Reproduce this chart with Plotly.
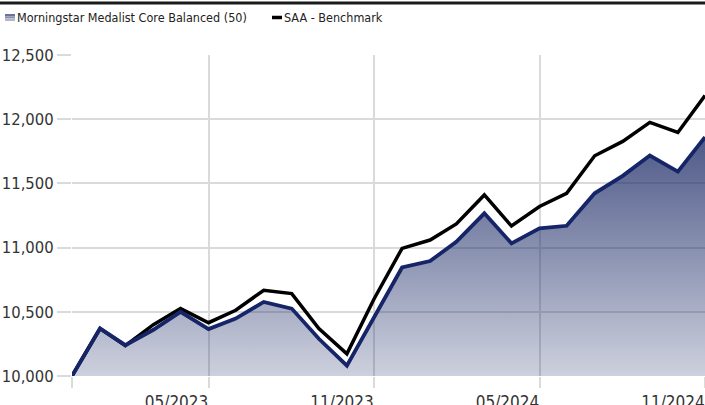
import plotly.graph_objects as go

dates = ["2022-12-31", "2023-01-31", "2023-02-28", "2023-03-31", "2023-04-30", "2023-05-31",
         "2023-06-30", "2023-07-31", "2023-08-31", "2023-09-30", "2023-10-31", "2023-11-30",
         "2023-12-31", "2024-01-31", "2024-02-29", "2024-03-31", "2024-04-30", "2024-05-31",
         "2024-06-30", "2024-07-31", "2024-08-31", "2024-09-30", "2024-10-31", "2024-11-30"]
fund = [10000, 10370, 10240, 10360, 10500, 10365, 10447, 10577, 10525, 10290, 10080, 10460,
        10845, 10895, 11045, 11267, 11033, 11150, 11170, 11423, 11559, 11717, 11592, 11861]
bench = [10000, 10370, 10236, 10400, 10525, 10415, 10512, 10668, 10642, 10369, 10173, 10600,
         10994, 11059, 11184, 11410, 11168, 11320, 11423, 11715, 11827, 11975, 11897, 12184]
fund_name = "Morningstar Medalist Core Balanced (50)"
bench_name = "SAA - Benchmark"
x_tickvals = ["2022-12-31", "2023-05-31", "2023-11-30", "2024-05-31", "2024-11-30"]
x_ticktext = ["", "05/2023", "11/2023", "05/2024", "11/2024"]
y_tickvals = [10000, 10500, 11000, 11500, 12000, 12500]

FONT = "'Liberation Sans Narrow', 'DejaVu Sans Condensed', 'Roboto Condensed', Roboto, sans-serif"
NAVY = "rgb(22,36,104)"

fig = go.Figure()
fig.add_trace(go.Scatter(x=dates, y=bench, mode="lines", name=bench_name,
                         line=dict(color="#000000", width=3.5), showlegend=False))
fig.add_trace(go.Scatter(x=dates, y=fund, mode="lines", name=fund_name, fill="tozeroy",
                         fillgradient=dict(type="vertical", start=10000, stop=12000,
                                           colorscale=[[0, "rgba(27,42,102,0.22)"],
                                                       [1, "rgba(27,42,102,0.82)"]]),
                         line=dict(color=NAVY, width=3.8), showlegend=False))

W, H = 705, 405
L, R, T, B = 72, 0, 55, 29
pw, ph = W - L - R, H - T - B


def px(xp):
    return (xp - L) / pw


def py(yp):
    return (H - B - yp) / ph


shapes = [
    dict(type="line", xref="paper", yref="paper", x0=px(0), x1=px(W), y0=py(3), y1=py(3),
         line=dict(color="#1a1a1a", width=3)),
    dict(type="rect", xref="paper", yref="paper", x0=px(5), x1=px(15), y0=py(14), y1=py(16.5),
         line=dict(width=0), fillcolor="#6a7399"),
    dict(type="rect", xref="paper", yref="paper", x0=px(5), x1=px(15), y0=py(16.5), y1=py(18.5),
         line=dict(width=0), fillcolor="#8d94b3"),
    dict(type="rect", xref="paper", yref="paper", x0=px(5), x1=px(15), y0=py(18.5), y1=py(21),
         line=dict(width=0), fillcolor="#b2b7cc"),
    dict(type="line", xref="paper", yref="paper", x0=px(272), x1=px(282), y0=py(17.5), y1=py(17.5),
         line=dict(color="#000000", width=3.5)),
]
annotations = [
    dict(text=fund_name, xref="paper", yref="paper", x=px(15), y=py(17.5), xanchor="left",
         yanchor="middle", showarrow=False, font=dict(family=FONT, size=12.5, color="#222222")),
    dict(text=bench_name, xref="paper", yref="paper", x=px(282), y=py(17.5), xanchor="left",
         yanchor="middle", showarrow=False, font=dict(family=FONT, size=12.5, color="#222222")),
]

fig.update_layout(
    width=W, height=H, margin=dict(l=L, r=R, t=T, b=B, autoexpand=False),
    paper_bgcolor="white", plot_bgcolor="white",
    shapes=shapes, annotations=annotations, showlegend=False,
    font=dict(family=FONT, size=17, color="#333333"),
)
fig.update_xaxes(type="date", range=["2022-12-31", "2024-11-30"], tickvals=x_tickvals,
                 ticktext=x_ticktext, showgrid=True, gridcolor="#dadada", gridwidth=2,
                 ticks="outside", ticklen=11, tickcolor="#dadada", tickwidth=2,
                 ticklabelshift=-32, ticklabeloverflow="allow", automargin=False,
                 zeroline=False, showline=False,
                 tickfont=dict(family=FONT, size=17, color="#333333"))
fig.update_yaxes(range=[10000, 12500], tickvals=y_tickvals, tickformat=",d", showgrid=True,
                 gridcolor="#dadada", gridwidth=2, ticks="outside", ticklen=14,
                 tickcolor="#dadada", tickwidth=2, zeroline=False, showline=False,
                 automargin=False, ticklabelstandoff=0,
                 tickfont=dict(family=FONT, size=16.5, color="#333333"))

fig.write_html("out.html", config={"displayModeBar": False},
               post_script="document.body.style.margin='0';document.body.style.overflow='hidden';")
